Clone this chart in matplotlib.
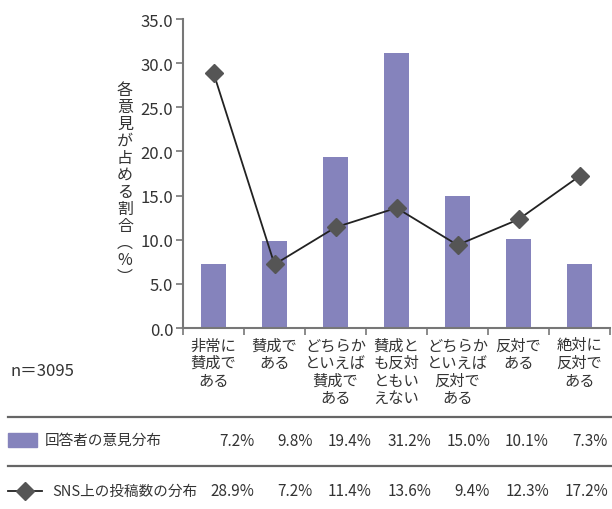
import numpy as np
import matplotlib
matplotlib.use('Agg')
import matplotlib.pyplot as plt
from matplotlib.lines import Line2D
from matplotlib.patches import Rectangle

plt.rcParams['font.family'] = ['Noto Sans CJK JP', 'DejaVu Sans']

# データ
categories = ['非常に\n賛成で\nある', '賛成で\nある', 'どちらか\nといえば\n賛成で\nある',
              '賛成と\nも反対\nともい\nえない', 'どちらか\nといえば\n反対で\nある', '反対で\nある',
              '絶対に\n反対で\nある']
respondents = [7.2, 9.8, 19.4, 31.2, 15.0, 10.1, 7.3]
sns_posts = [28.9, 7.2, 11.4, 13.6, 9.4, 12.3, 17.2]
yticks = [0, 5, 10, 15, 20, 25, 30, 35]

bar_color = '#8583bc'
mark_color = '#555555'
text_color = '#333333'
spine_color = '#777777'

fig = plt.figure(figsize=(6.12, 5.10), dpi=100)
ax = fig.add_axes([183 / 612, 1 - 329 / 510, 427 / 612, 309 / 510])

x = np.arange(len(categories))
ax.bar(x, respondents, width=0.41, color=bar_color, zorder=2)
ax.plot(x, sns_posts, color='#222222', lw=1.3, marker='D', markersize=9,
        markerfacecolor=mark_color, markeredgecolor=mark_color, zorder=3)

ax.set_xlim(-0.5, 6.5)
ax.set_ylim(0, 35)
ax.set_yticks(yticks)
ax.set_yticklabels(['%.1f' % v for v in yticks], fontsize=12, color=text_color)
ax.set_xticks(x)
ax.set_xticklabels(categories, fontsize=11, color=text_color, linespacing=1.05, va='top')
ax.set_xticks(np.arange(-0.5, 7, 1), minor=True)
ax.tick_params(axis='x', which='major', length=0, pad=6)
ax.tick_params(axis='x', which='minor', length=5, color=spine_color, width=1.2)
ax.tick_params(axis='y', length=5, color=spine_color, width=1.2, pad=2)

for s in ['top', 'right']:
    ax.spines[s].set_visible(False)
for s in ['left', 'bottom']:
    ax.spines[s].set_color(spine_color)
    ax.spines[s].set_linewidth(1.5)

# 縦書きの軸ラベル
ylabel = '各意見が占める割合︵%︶'
fig.text(125 / 612, 1 - 184 / 510, '\n'.join(ylabel), ha='center', va='center',
         fontsize=11.5, color=text_color, linespacing=1.0)

fig.text(10 / 612, 1 - 372 / 510, 'n＝3095', ha='left', va='center',
         fontsize=12, color=text_color)

# 表
for yy in [418, 467]:
    fig.add_artist(Line2D([8 / 612, 1.0], [1 - yy / 510] * 2, color='#666666', lw=1.6))

row1_y = 1 - 441 / 510
row2_y = 1 - 492 / 510
fig.add_artist(Rectangle((8 / 612, 1 - 448 / 510), 29 / 612, 14 / 510,
                         color=bar_color, transform=fig.transFigure))
fig.text(45 / 612, row1_y, '回答者の意見分布', ha='left', va='center',
         fontsize=10.5, color=text_color)
fig.add_artist(Line2D([8 / 612, 42 / 612], [row2_y] * 2, color='#222222', lw=1.3))
fig.add_artist(Line2D([25 / 612], [row2_y], marker='D', markersize=9,
                      markerfacecolor=mark_color, markeredgecolor=mark_color))
fig.text(52 / 612, row2_y, 'SNS上の投稿数の分布', ha='left', va='center',
         fontsize=10.5, color=text_color)

for i in range(len(categories)):
    right = (254 + i * 59.0) / 612
    fig.text(right, row1_y, '%.1f%%' % respondents[i],
             ha='right', va='center', fontsize=11, color=text_color)
    fig.text(right, row2_y, '%.1f%%' % sns_posts[i],
             ha='right', va='center', fontsize=11, color=text_color)

fig.savefig('out.png', dpi=100)
